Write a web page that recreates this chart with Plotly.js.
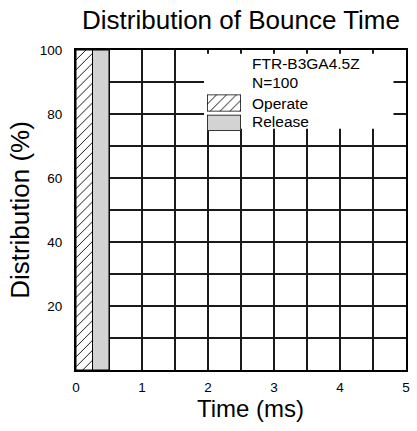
<!DOCTYPE html>
<html><head><meta charset="utf-8">
<script src="https://cdn.plot.ly/plotly-3.0.1.min.js"></script>
<style>html,body{margin:0;padding:0;background:#fff}#chart{width:417px;height:431px}</style>
</head><body><div id="chart"></div>
<script>
// Data
const seriesNames = ["Operate", "Release"];
const binStart = [0, 0.25];      // ms
const binWidth = [0.25, 0.25];   // ms
const distribution = [100, 100]; // %
const xTicks = [0, 1, 2, 3, 4, 5];
const yTicks = [20, 40, 60, 80, 100];
const legendHeader = ["FTR-B3GA4.5Z", "N=100"];
const xTitle = "Time (ms)";
const yTitle = "Distribution (%)";

const font = "Liberation Sans, Arial, sans-serif";
const centers = binStart.map((s, i) => s + binWidth[i] / 2);
const hatch = {shape: "/", fgcolor: "#000", bgcolor: "#fff", size: 7, solidity: 0.13};
const gray = "#d3d3d3";

const traces = [
  {type: "bar", name: seriesNames[0], x: [centers[0]], y: [distribution[0]], width: [binWidth[0]],
   marker: {color: "#fff", line: {color: "#000", width: 1}, pattern: hatch},
   showlegend: false, hoverinfo: "skip"},
  {type: "bar", name: seriesNames[1], x: [centers[1]], y: [distribution[1]], width: [binWidth[1]],
   marker: {color: gray, line: {color: "#000", width: 1}},
   showlegend: false, hoverinfo: "skip"},
  // legend swatches, each in its own small inset axes
  {type: "bar", x: [0], y: [1], width: [1], xaxis: "x2", yaxis: "y2",
   marker: {color: "#fff", line: {color: "#000", width: 1.5}, pattern: hatch},
   showlegend: false, hoverinfo: "skip"},
  {type: "bar", x: [0], y: [1], width: [1], xaxis: "x3", yaxis: "y3",
   marker: {color: gray, line: {color: "#000", width: 1.5}},
   showlegend: false, hoverinfo: "skip"}
];

const hidden = {visible: false, fixedrange: true, showgrid: false, zeroline: false};
const layout = {
  width: 417, height: 431,
  margin: {l: 76, r: 11, t: 50, b: 61},
  paper_bgcolor: "#fff", plot_bgcolor: "#fff",
  font: {family: font, color: "#000", size: 13},
  title: {text: "Distribution of Bounce Time", font: {family: font, size: 26, color: "#000"},
          x: 0.5, xref: "paper", xanchor: "center", y: 0.954, yref: "container", yanchor: "middle"},
  bargap: 0,
  xaxis: {range: [0, 5], tickvals: xTicks, ticktext: xTicks.map(String), ticks: "",
          showgrid: true, gridcolor: "#1a1a1a", gridwidth: 2,
          minor: {dtick: 0.5, tick0: 0, showgrid: true, gridcolor: "#1a1a1a", gridwidth: 2, ticks: ""},
          showline: true, linecolor: "#000", linewidth: 2, mirror: true, zeroline: false,
          tickfont: {size: 13.5}, ticklabelstandoff: 4},
  yaxis: {range: [0, 100], tickvals: yTicks, ticktext: yTicks.map(String), ticks: "",
          showgrid: true, gridcolor: "#1a1a1a", gridwidth: 2,
          minor: {dtick: 10, tick0: 0, showgrid: true, gridcolor: "#1a1a1a", gridwidth: 2, ticks: ""},
          showline: true, linecolor: "#000", linewidth: 2, mirror: true, zeroline: false,
          tickfont: {size: 13.5}, ticklabelstandoff: 9,
          title: {text: yTitle, font: {size: 26}, standoff: 3}},
  xaxis2: Object.assign({domain: [0.397, 0.5], range: [-0.5, 0.5], anchor: "y2"}, hidden),
  yaxis2: Object.assign({domain: [0.808, 0.861], range: [0, 1], anchor: "x2"}, hidden),
  xaxis3: Object.assign({domain: [0.397, 0.5], range: [-0.5, 0.5], anchor: "y3"}, hidden),
  yaxis3: Object.assign({domain: [0.748, 0.798], range: [0, 1], anchor: "x3"}, hidden),
  shapes: [
    {type: "rect", xref: "x", yref: "y", x0: 1.94, x1: 4.81, y0: 75.4, y1: 98.8,
     fillcolor: "#fff", line: {width: 0}, layer: "between"}
  ],
  annotations: [
    {text: xTitle, xref: "paper", yref: "paper", x: 0.53, y: -0.119, xanchor: "center", yanchor: "middle", showarrow: false, font: {size: 24}},
    {text: legendHeader[0], xref: "paper", yref: "paper", x: 0.527, y: 0.959, xanchor: "left", yanchor: "middle", showarrow: false, font: {size: 15.5}},
    {text: legendHeader[1], xref: "paper", yref: "paper", x: 0.527, y: 0.900, xanchor: "left", yanchor: "middle", showarrow: false, font: {size: 15.5}},
    {text: seriesNames[0], xref: "paper", yref: "paper", x: 0.527, y: 0.834, xanchor: "left", yanchor: "middle", showarrow: false, font: {size: 15.5}},
    {text: seriesNames[1], xref: "paper", yref: "paper", x: 0.527, y: 0.778, xanchor: "left", yanchor: "middle", showarrow: false, font: {size: 15.5}}
  ]
};

Plotly.newPlot("chart", traces, layout, {staticPlot: true, displayModeBar: false});
</script></body></html>
